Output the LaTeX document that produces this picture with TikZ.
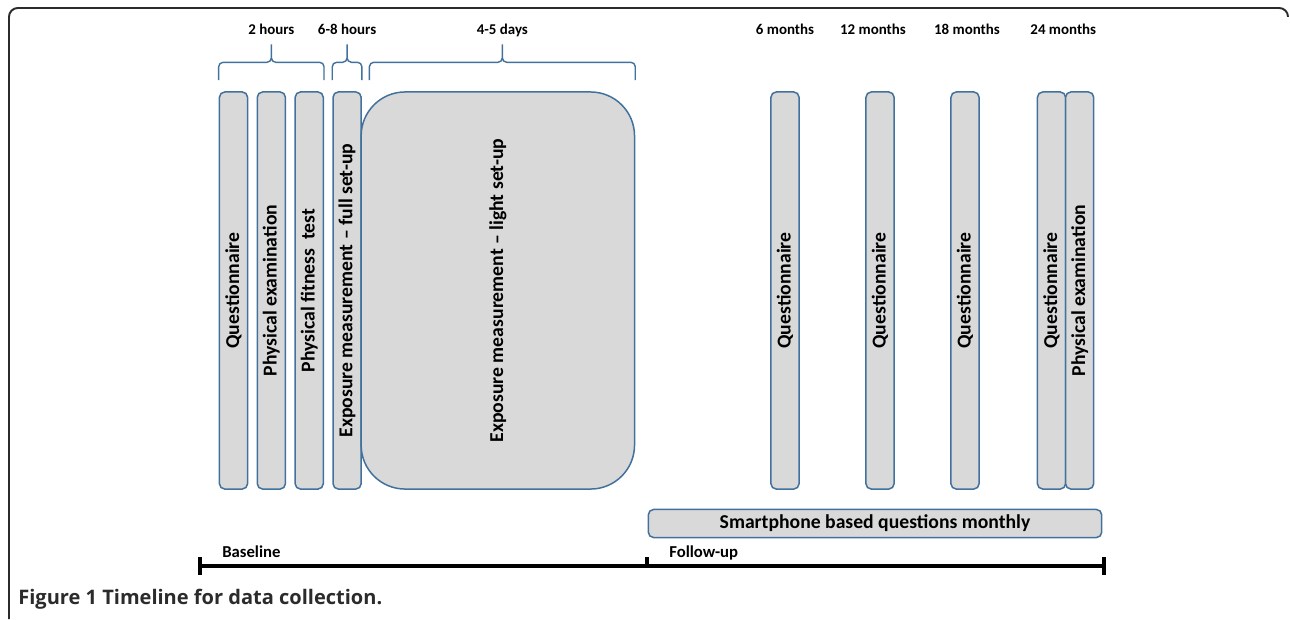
\documentclass[tikz,border=0pt]{standalone}
\usepackage{fontspec}
\setmainfont{Carlito}
\newfontfamily\capfont{Open Sans}
\usetikzlibrary{positioning,calc}
\definecolor{boxblue}{HTML}{41719C}
\definecolor{boxgray}{HTML}{D9D9D9}
\definecolor{capgray}{HTML}{2B2B2B}

% brace over the boxes from #1 to #2, labelled #3
\newcommand{\timebrace}[3]{%
  \draw[brace line] let \p1=($(#1)+(0,-11)$), \p2=($(#2)+(0,-11)$), \p3=($(\p1)!0.5!(\p2)$) in
    (\p1) -- (\x1,\y1+10.2pt) -- (\x3,\y1+10.2pt) -- (\x3,\y1+20.4pt)
    (\p2) -- (\x2,\y2+10.2pt) -- (\x3,\y2+10.2pt) -- (\x3,\y2+20.4pt)
    (\x3,\y1+20.4pt) node[period, yshift=8pt] {#3};}

\begin{document}
\begin{tikzpicture}[x=0.02cm, y=-0.02cm, node distance=4.7pt,
        visit/.style={draw=boxblue, fill=boxgray, line width=0.85pt, rounded corners=3pt,
            minimum width=16pt, minimum height=226pt, inner sep=0pt,
            font=\bfseries\fontsize{11.2}{12}\selectfont},
        period/.style={inner sep=0pt, text=black, text height=6pt, text depth=1pt,
            font=\bfseries\fontsize{8.5}{10}\selectfont},
        phase/.style={anchor=west, inner sep=0pt, text height=6.5pt, text depth=1pt,
            font=\bfseries\fontsize{9.5}{11}\selectfont},
        brace line/.style={boxblue, line width=0.8pt, rounded corners=2.5pt},
        timeline/.style={line width=2.8pt},
        tick/.style={line width=2.3pt}]
    \useasboundingbox (0,0) rectangle (1290,619);
    % frame
    \draw[capgray, line width=1.1pt, rounded corners=5pt] (1288,16) -- (1288,8) -- (9,8) -- (9,619);
    \coordinate (top) at (0,30);

    % baseline
    \node[visit] (q0) at (233.5,290.5) {\rotatebox{90}{Questionnaire}};
    \node[visit, right=of q0] (pe0) {\rotatebox{90}{Physical examination}};
    \node[visit, right=of pe0] (fit0) {\rotatebox{90}{Physical fitness ~test}};
    \node[visit, right=of fit0] (full) {\rotatebox{90}{Exposure measurement -- full set-up}};
    \node[visit, right=-0.85pt of full, minimum width=155.6pt, rounded corners=25pt] (light)
        {\rotatebox{90}{Exposure measurement -- light set-up}};
    \coordinate (lw) at ($(light.north west)+(9,0)$);

    \timebrace{q0.north west}{fit0.north east}{2 hours}
    \timebrace{full.north west}{full.north east}{6-8 hours}
    \timebrace{lw}{light.north east}{4-5 days}

    % follow-up
    \node[visit] (q6) at (785,290.5) {\rotatebox{90}{Questionnaire}};
    \node[visit] (q12) at (880,290.5) {\rotatebox{90}{Questionnaire}};
    \node[visit] (q18) at (965,290.5) {\rotatebox{90}{Questionnaire}};
    \node[visit] (q24) at (1051.5,290.5) {\rotatebox{90}{Questionnaire}};
    \node[visit, right=-0.85pt of q24] (pe24) {\rotatebox{90}{Physical examination}};

    \node[period] (m6) at (q6.north |- top) {6 months};
    \node[period] (m12) at ($(q12.north |- top)+(-7,0)$) {12 months};
    \node[period] (m18) at ($(q18.north |- top)+(2,0)$) {18 months};
    \node[period] (m24) at ($(q24.north east |- top)+(-3,0)$) {24 months};

    \node[visit, minimum width=258pt, minimum height=16pt] (phone) at (875,523.5)
        {Smartphone based questions monthly};

    % timeline
    \coordinate (t0) at (200,566);
    \coordinate (t1) at (647,566);
    \coordinate (t2) at (1104,566);
    \draw[timeline] (t0) -- (t2);
    \draw[tick] ([yshift=5.1pt]t0) -- ([yshift=-5.1pt]t0);
    \draw[tick] ([yshift=5.1pt]t2) -- ([yshift=-5.1pt]t2);
    \draw[tick] ([yshift=5.1pt]t1) -- (t1);
    \node[phase] (base) at ([xshift=12.5pt,yshift=7.4pt]t0) {Baseline};
    \node[phase] (follow) at ([xshift=12.5pt,yshift=7.4pt]t1) {Follow-up};

    \node[anchor=west, inner sep=0pt, text=capgray, font=\capfont\bfseries\fontsize{11.4}{13}\selectfont]
        (caption) at (18,599) {Figure 1 Timeline for data collection.};
\end{tikzpicture}
\end{document}
